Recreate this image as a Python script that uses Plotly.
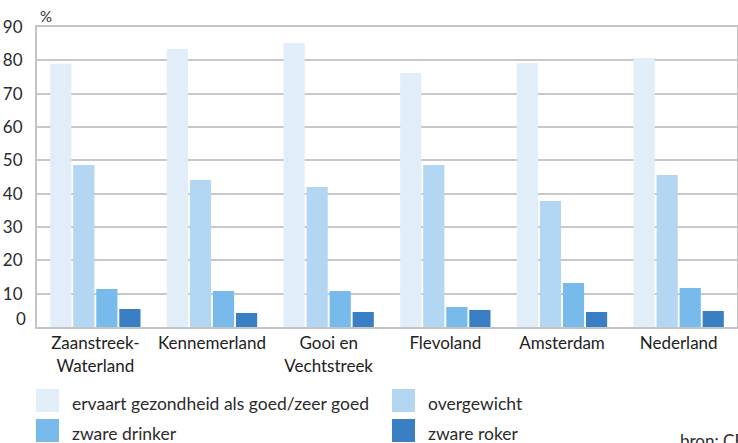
import plotly.graph_objects as go

regions = ["Zaanstreek-<br>Waterland", "Kennemerland", "Gooi en<br>Vechtstreek",
           "Flevoland", "Amsterdam", "Nederland"]
series_names = ["ervaart gezondheid als goed/zeer goed", "overgewicht",
                "zware drinker", "zware roker"]
gezondheid = [79, 83.4, 85.2, 76.2, 79.2, 80.7]
overgewicht = [48.6, 44.1, 42.0, 48.6, 37.8, 45.6]
drinker = [11.4, 10.8, 10.8, 6.0, 13.2, 11.7]
roker = [5.4, 4.2, 4.5, 5.1, 4.5, 4.8]
y_ticks = [0, 10, 20, 30, 40, 50, 60, 70, 80, 90]

colors = ["#E1EDF9", "#B3D6F3", "#78BAEC", "#3A7FC4"]
values = [gezondheid, overgewicht, drinker, roker]

W, H = 738, 443
ML, MR, MT, MB = 37, 1, 27, 116
PW, PH = W - ML - MR, H - MT - MB


def px_x(px):
    return (px - ML) / PW


def px_y(py):
    return (H - MB - py) / PH


fig = go.Figure()
for name, vals, col in zip(series_names, values, colors):
    fig.add_trace(go.Bar(x=regions, y=vals, name=name, marker_color=col,
                         marker_line_width=0, showlegend=False))

font = "Lato, 'Open Sans', sans-serif"
text_col = "#2b2b2b"

# custom legend (2 x 2) with large square swatches
shapes = []
annotations = []
col_x = [36, 392]
row_y = [389, 419]
sw = 23
for i, (name, col) in enumerate(zip(series_names, colors)):
    r, c = divmod(i, 2)
    x0, y0 = col_x[c], row_y[r]
    shapes.append(dict(type="rect", xref="paper", yref="paper",
                       x0=px_x(x0), x1=px_x(x0 + sw), y0=px_y(y0 + sw), y1=px_y(y0),
                       fillcolor=col, line_width=0, layer="above"))
    annotations.append(dict(text=name, xref="paper", yref="paper",
                            x=px_x(x0 + 34), y=px_y(y0 + sw / 2 + 3), xanchor="left",
                            yanchor="middle", showarrow=False,
                            font=dict(size=17.5, color=text_col)))

# the "0" label sits slightly above the baseline in the original
tick_text = [""] + [str(v) for v in y_ticks[1:]]
annotations.append(dict(text=str(y_ticks[0]), xref="paper", yref="y", x=0, y=y_ticks[0],
                        xanchor="right", yanchor="middle", xshift=-9, yshift=9,
                        showarrow=False, font=dict(size=17, color=text_col)))

annotations += [
    dict(text="%", xref="paper", yref="paper", x=0.0, y=1.0, xanchor="left",
         yanchor="bottom", showarrow=False, font=dict(size=15, color=text_col),
         xshift=1, yshift=0),
    dict(text="bron: CBS", xref="paper", yref="paper", x=px_x(678), y=px_y(440),
         xanchor="left", yanchor="middle", showarrow=False,
         font=dict(size=17, color=text_col)),
]

fig.update_layout(
    width=W, height=H,
    margin=dict(l=ML, r=MR, t=MT, b=MB, autoexpand=False),
    paper_bgcolor="white", plot_bgcolor="white",
    barmode="group", bargap=0.21, bargroupgap=0.08,
    font=dict(family=font, size=16, color=text_col),
    showlegend=False,
    shapes=shapes,
    annotations=annotations,
)
fig.update_xaxes(showline=True, linecolor="#C4C4C4", linewidth=2, mirror=True,
                 tickfont=dict(size=17, color="#222222"), ticks="", automargin=False)
fig.update_yaxes(range=[0, 90], tickvals=y_ticks, ticktext=tick_text, showgrid=True,
                 gridcolor="#C8C8C8", gridwidth=2, showline=True, linecolor="#C4C4C4",
                 linewidth=2, mirror=True, zeroline=False, ticks="", ticklabelstandoff=9,
                 automargin=False, tickfont=dict(size=17, color=text_col))

fig.write_html("out.html", config={"displayModeBar": False},
               post_script="document.body.style.margin='0';document.body.style.overflow='hidden';")
